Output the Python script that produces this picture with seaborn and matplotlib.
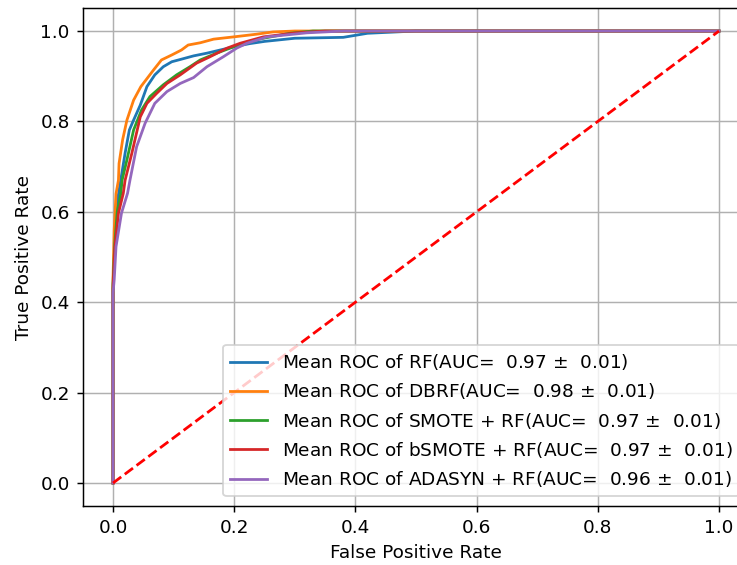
import matplotlib
matplotlib.use("Agg")
import matplotlib.pyplot as plt
import seaborn as sns

# mean ROC curves
rf_fpr = [0, 0, 0.002, 0.004, 0.008, 0.014, 0.020, 0.027, 0.034, 0.045, 0.056, 0.069, 0.083, 0.097, 0.111,
          0.133, 0.155, 0.177, 0.199, 0.225, 0.25, 0.30, 0.38, 0.42, 0.50, 1.0]
rf_tpr = [0, 0.42, 0.50, 0.57, 0.63, 0.68, 0.73, 0.781, 0.803, 0.836, 0.877, 0.903, 0.921, 0.932, 0.937,
          0.945, 0.951, 0.958, 0.965, 0.972, 0.977, 0.984, 0.986, 0.995, 1.0, 1.0]

dbrf_fpr = [0, 0, 0.002, 0.005, 0.009, 0.010, 0.016, 0.023, 0.034, 0.046, 0.067, 0.080, 0.097, 0.113, 0.124,
            0.144, 0.166, 0.199, 0.237, 0.264, 0.30, 1.0]
dbrf_tpr = [0, 0.45, 0.56, 0.64, 0.67, 0.707, 0.76, 0.803, 0.847, 0.877, 0.914, 0.936, 0.947, 0.958, 0.969,
            0.974, 0.982, 0.987, 0.993, 0.998, 1.0, 1.0]

smote_fpr = [0, 0, 0.003, 0.007, 0.013, 0.015, 0.023, 0.034, 0.047, 0.061, 0.083, 0.105, 0.127, 0.144, 0.171,
             0.199, 0.24, 0.292, 0.33, 1.0]
smote_tpr = [0, 0.44, 0.53, 0.60, 0.641, 0.67, 0.715, 0.781, 0.825, 0.855, 0.881, 0.903, 0.921, 0.936, 0.951,
             0.965, 0.982, 0.995, 1.0, 1.0]

bsmote_fpr = [0, 0, 0.003, 0.009, 0.017, 0.020, 0.031, 0.045, 0.056, 0.072, 0.089, 0.111, 0.138, 0.160, 0.188,
              0.210, 0.248, 0.303, 0.35, 1.0]
bsmote_tpr = [0, 0.43, 0.52, 0.597, 0.641, 0.67, 0.729, 0.810, 0.840, 0.862, 0.884, 0.903, 0.929, 0.943, 0.962,
              0.973, 0.987, 0.996, 1.0, 1.0]

adasyn_fpr = [0, 0, 0.002, 0.005, 0.014, 0.024, 0.028, 0.039, 0.053, 0.069, 0.089, 0.111, 0.133, 0.155, 0.182,
              0.204, 0.221, 0.254, 0.320, 0.38, 1.0]
adasyn_tpr = [0, 0.42, 0.45, 0.523, 0.597, 0.641, 0.67, 0.744, 0.796, 0.840, 0.866, 0.884, 0.897, 0.921, 0.943,
              0.962, 0.973, 0.987, 0.996, 1.0, 1.0]

names = ["RF", "DBRF", "SMOTE + RF", "bSMOTE + RF", "ADASYN + RF"]
aucs = [0.97, 0.98, 0.97, 0.97, 0.96]
stds = [0.01, 0.01, 0.01, 0.01, 0.01]
curves = [(rf_fpr, rf_tpr), (dbrf_fpr, dbrf_tpr), (smote_fpr, smote_tpr),
          (bsmote_fpr, bsmote_tpr), (adasyn_fpr, adasyn_tpr)]

colors = sns.color_palette("tab10", 5)

DPI = 133
fig = plt.figure(figsize=(737 / DPI, 565 / DPI), dpi=DPI)
ax = fig.add_axes([0.1122, 0.1051, 0.9045, 0.88])

for (fpr, tpr), name, auc, sd, c in zip(curves, names, aucs, stds, colors):
    sns.lineplot(x=fpr, y=tpr, ax=ax, sort=False, estimator=None, color=c, linewidth=1.5,
                 label="Mean ROC of %s(AUC=  %0.2f $\\pm$  %0.2f)" % (name, auc, sd))

# chance line
ax.plot([0, 1], [0, 1], linestyle="--", lw=1.5, color="r")

ax.set_xlim(-0.05, 1.05)
ax.set_ylim(-0.05, 1.05)
ax.set_xlabel("False Positive Rate")
ax.set_ylabel("True Positive Rate")
ax.grid(True)
ax.legend(loc="lower right")

fig.savefig("out.png", dpi=DPI)
